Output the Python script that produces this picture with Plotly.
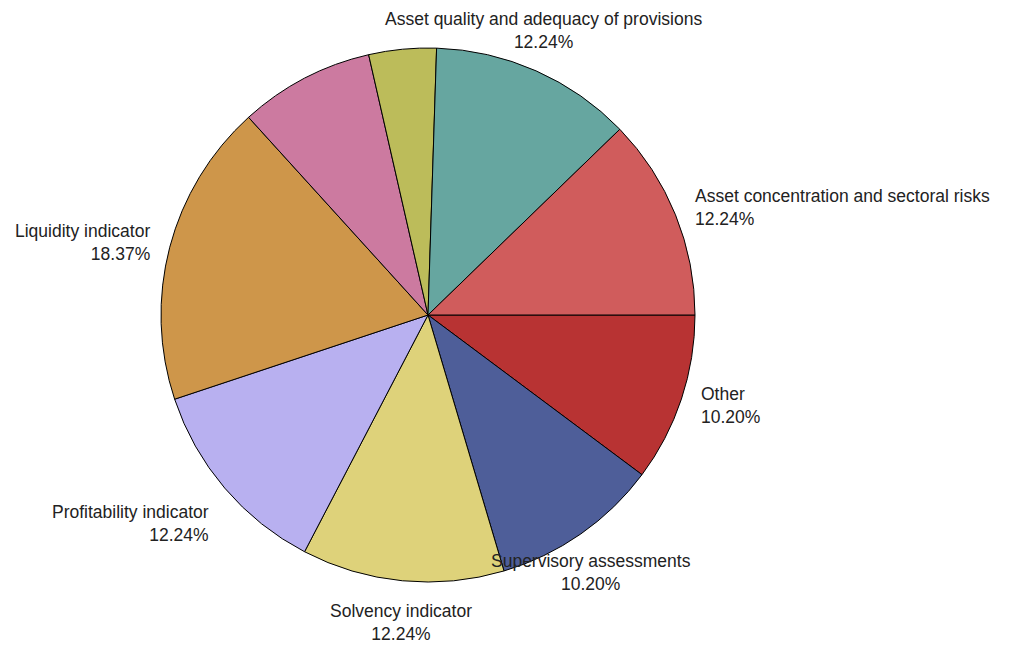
import math
import plotly.graph_objects as go

# Share of indicators by category (percent), counterclockwise from 3 o'clock
categories = [
    "Asset concentration and sectoral risks",
    "Asset quality and adequacy of provisions",
    "Capital adequacy",
    "Management quality",
    "Liquidity indicator",
    "Profitability indicator",
    "Solvency indicator",
    "Supervisory assessments",
    "Other",
]
shares = [12.24, 12.24, 4.08, 8.16, 18.37, 12.24, 12.24, 10.20, 10.20]
show_label = [True, True, False, False, True, True, True, True, True]
colors = [
    "#D05C5C", "#66A6A0", "#BCBC5A", "#CC7AA0", "#CE964A",
    "#B8B0F0", "#DED27A", "#4E5E99", "#B83333",
]

W, H = 1016, 646
cx, cy, r = 428, 315, 267
FONT = "Liberation Sans, Arial, sans-serif"

# Plotly draws clockwise from 3 o'clock, so feed the slices in reverse order
fig = go.Figure(
    go.Pie(
        labels=categories[::-1],
        values=shares[::-1],
        sort=False,
        direction="clockwise",
        rotation=90,
        marker=dict(colors=colors[::-1], line=dict(color="#000000", width=1)),
        textinfo="none",
        hoverinfo="label+value",
        showlegend=False,
        domain=dict(
            x=[(cx - r) / W, (cx + r) / W],
            y=[(H - cy - r) / H, (H - cy + r) / H],
        ),
    )
)

# Outside labels placed at each slice's mid-angle
total = sum(shares)
start = 0.0
for name, val, show in zip(categories, shares, show_label):
    span = val / total * 360.0
    mid = math.radians(start + span / 2)
    start += span
    if not show:
        continue
    c, s = math.cos(mid), math.sin(mid)
    px = cx + r * 1.07 * c
    py = cy - r * 1.07 * s
    if c > 0.7:
        xa, al = "left", "left"
    elif c < -0.7:
        xa, al = "right", "right"
    else:
        xa, al = "center", "center"
    if s > 0.5:
        ya = "bottom"
    elif s < -0.5:
        ya = "top"
    else:
        ya = "middle"
    fig.add_annotation(
        x=px / W,
        y=1 - py / H,
        xref="paper",
        yref="paper",
        xanchor=xa,
        yanchor=ya,
        align=al,
        showarrow=False,
        text=f"{name}<br>{val:.2f}%",
        font=dict(family=FONT, size=17.5, color="#222222"),
    )

fig.update_layout(
    width=W,
    height=H,
    margin=dict(l=0, r=0, t=0, b=0),
    paper_bgcolor="white",
    plot_bgcolor="white",
)

fig.write_html("out.html")
